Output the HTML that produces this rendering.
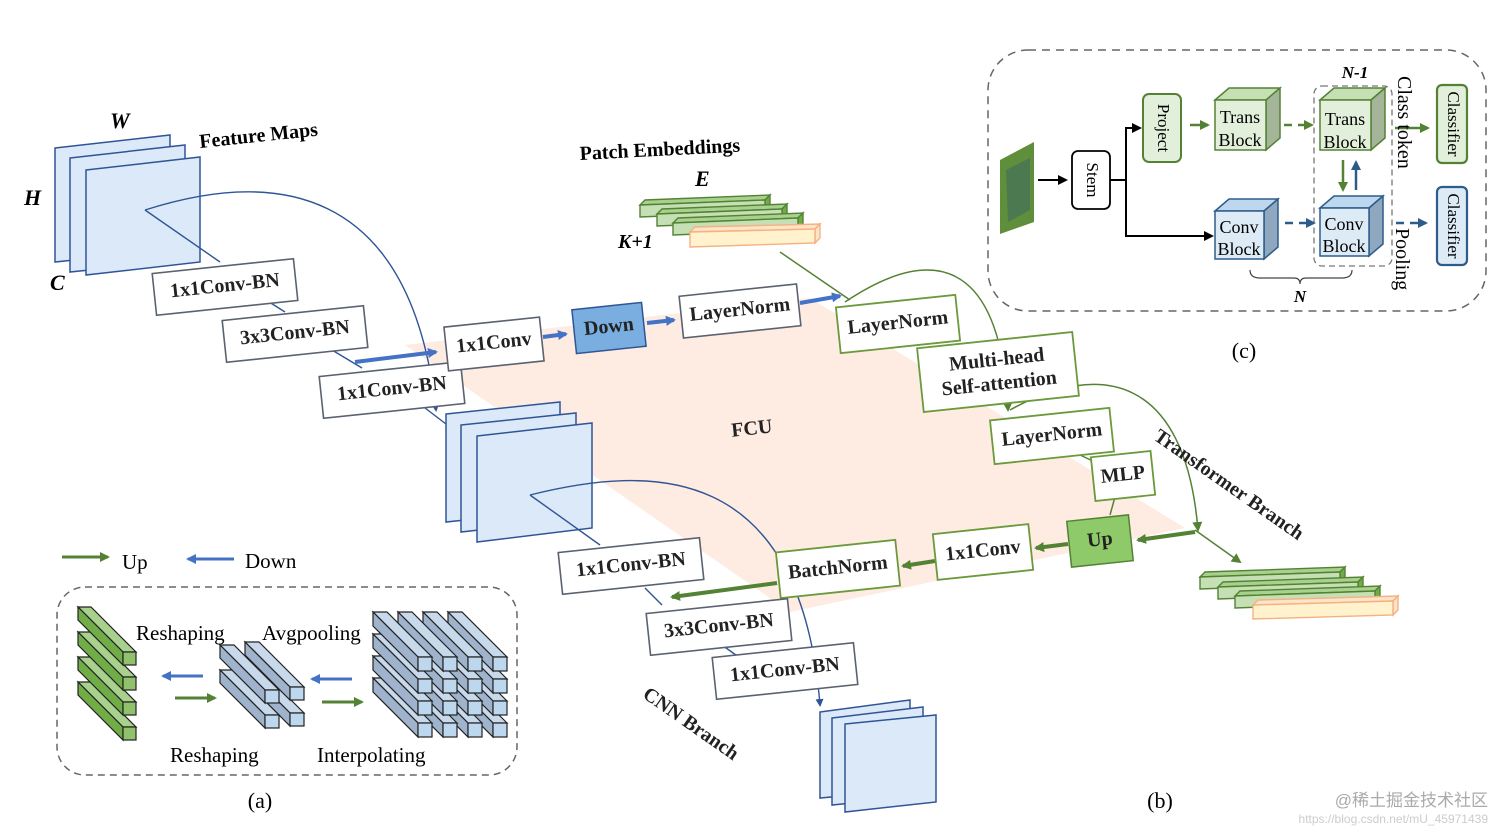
<!DOCTYPE html>
<html><head><meta charset="utf-8"><style>
html,body{margin:0;padding:0;background:#fff;}
svg{display:block;font-family:"Liberation Serif",serif;}
.b{fill:#fff;stroke:#5a6270;stroke-width:1.6}
.g{fill:#fff;stroke:#6a9a3a;stroke-width:1.8}
.t{font-size:20px;font-weight:bold;fill:#222;text-anchor:middle;dominant-baseline:middle}
.fm{fill:#dce9f8;stroke:#2f5597;stroke-width:1.5}
</style></head><body>
<svg width="1512" height="833" viewBox="0 0 1512 833" xmlns="http://www.w3.org/2000/svg">
<defs>
<marker id="ab" markerWidth="8" markerHeight="8" refX="6" refY="4" orient="auto" markerUnits="userSpaceOnUse"><path d="M0,0L8,4L0,8z" fill="#2f5597"/></marker>
<marker id="ag" markerWidth="10" markerHeight="10" refX="8" refY="5" orient="auto" markerUnits="userSpaceOnUse"><path d="M0,0L10,5L0,10z" fill="#548235"/></marker>
<marker id="ak" markerWidth="10" markerHeight="10" refX="8" refY="5" orient="auto" markerUnits="userSpaceOnUse"><path d="M0,0L10,5L0,10z" fill="#000"/></marker>
<marker id="abl" markerWidth="10" markerHeight="10" refX="8" refY="5" orient="auto" markerUnits="userSpaceOnUse"><path d="M0,0L10,5L0,10z" fill="#4472c4"/></marker>
<marker id="adb" markerWidth="10" markerHeight="10" refX="8" refY="5" orient="auto" markerUnits="userSpaceOnUse"><path d="M0,0L10,5L0,10z" fill="#2e5c8a"/></marker>
<g id="bbar"><polygon points="0,0 14,0 -31,-45 -45,-45" fill="#c9d9ec"/><polygon points="0,0 0,14 -45,-31 -45,-45" fill="#9fb4cc"/><rect width="14" height="14" fill="#bdd7ee"/></g>
<g id="sbar"><polygon points="0,0 14,0 -31,-45 -45,-45" fill="#c9d9ec"/><polygon points="0,0 0,13 -45,-32 -45,-45" fill="#9fb4cc"/><rect width="14" height="13" fill="#bdd7ee"/></g>
<g id="gbar"><polygon points="0,0 13,0 -32,-45 -45,-45" fill="#a9d18e"/><polygon points="0,0 0,13 -45,-32 -45,-45" fill="#70ad47"/><rect width="13" height="13" fill="#8fc26a"/></g>
</defs>

<!-- FCU plane -->
<polygon points="405,345 810,298 1185,528 790,612" fill="#fde4d8" opacity="0.75"/>
<text x="752" y="430" class="t" transform="rotate(-6 752 430)">FCU</text>

<!-- top-left feature maps -->
<polygon class="fm" points="55,148 170,135 170,250 55,262"/>
<polygon class="fm" points="70,158 185,145 185,260 70,272"/>
<polygon class="fm" points="86,170 200,157 200,262 86,275"/>
<text x="110" y="128" font-size="22" font-weight="bold" font-style="italic">W</text>
<text x="24" y="205" font-size="22" font-weight="bold" font-style="italic">H</text>
<text x="50" y="290" font-size="22" font-weight="bold" font-style="italic">C</text>
<text x="200" y="148" font-size="20" font-weight="bold" transform="rotate(-6 200 148)">Feature Maps</text>

<!-- middle feature maps -->
<polygon class="fm" points="446,414 560,402 560,510 446,522"/>
<polygon class="fm" points="461,425 576,413 576,519 461,532"/>
<polygon class="fm" points="477,436 592,423 592,528 477,542"/>
<!-- bottom feature maps -->
<polygon class="fm" points="820,712 910,700 910,790 820,798"/>
<polygon class="fm" points="832,718 923,707 923,796 832,805"/>
<polygon class="fm" points="845,724 936,715 936,802 845,812"/>

<!-- patch embeddings top -->
<g stroke-width="1.4">
<g stroke="#548235" fill="#a9d18e">
<polygon points="640,205 645,200 770,195 765,200"/><polygon points="765,200 770,195 770,207 765,212" fill="#70ad47"/><polygon points="640,205 765,200 765,212 640,217" fill="#c5e0b4"/>
<polygon points="657,214 662,209 787,204 782,209"/><polygon points="782,209 787,204 787,216 782,221" fill="#70ad47"/><polygon points="657,214 782,209 782,221 657,226" fill="#c5e0b4"/>
<polygon points="673,223 678,218 803,213 798,218"/><polygon points="798,218 803,213 803,225 798,230" fill="#70ad47"/><polygon points="673,223 798,218 798,230 673,235" fill="#c5e0b4"/>
</g>
<g stroke="#f4b183" fill="#fce4c8"><polygon points="690,232 695,227 820,224 815,229"/><polygon points="815,229 820,224 820,238 815,243"/><polygon points="690,232 815,229 815,243 690,247" fill="#fff2cc"/></g>
</g>
<text x="580" y="160" font-size="20" font-weight="bold" transform="rotate(-3 580 160)">Patch Embeddings</text>
<text x="695" y="186" font-size="22" font-weight="bold" font-style="italic">E</text>
<text x="618" y="248" font-size="20" font-weight="bold" font-style="italic">K+1</text>

<!-- patch embeddings bottom-right -->
<g stroke-width="1.4">
<g stroke="#548235" fill="#a9d18e">
<polygon points="1200,577 1205,572 1345,567 1340,572"/><polygon points="1340,572 1345,567 1345,579 1340,584" fill="#70ad47"/><polygon points="1200,577 1340,572 1340,584 1200,589" fill="#c5e0b4"/>
<polygon points="1218,587 1223,582 1363,577 1358,582"/><polygon points="1358,582 1363,577 1363,589 1358,594" fill="#70ad47"/><polygon points="1218,587 1358,582 1358,594 1218,599" fill="#c5e0b4"/>
<polygon points="1235,596 1240,591 1380,586 1375,591"/><polygon points="1375,591 1380,586 1380,598 1375,603" fill="#70ad47"/><polygon points="1235,596 1375,591 1375,603 1235,608" fill="#c5e0b4"/>
</g>
<g stroke="#f4b183" fill="#fce4c8"><polygon points="1253,605 1258,600 1398,596 1393,601"/><polygon points="1393,601 1398,596 1398,610 1393,615"/><polygon points="1253,605 1393,601 1393,615 1253,619" fill="#fff2cc"/></g>
</g>

<!-- connector lines -->
<g stroke="#2f5597" stroke-width="1.4" fill="none">
<line x1="145" y1="210" x2="220" y2="262"/>
<path d="M145,210 C270,170 410,180 436,410" marker-end="url(#ab)"/>
<line x1="255" y1="293" x2="285" y2="312"/>
<line x1="332" y1="350" x2="362" y2="368"/>
<line x1="425" y1="408" x2="446" y2="424"/>
<line x1="530" y1="495" x2="600" y2="545"/>
<path d="M530,495 C650,465 800,460 820,705" marker-end="url(#ab)"/>
<line x1="645" y1="588" x2="662" y2="605"/>
<line x1="722" y1="645" x2="740" y2="658"/>
</g>
<g stroke="#548235" stroke-width="1.5" fill="none">
<line x1="780" y1="252" x2="850" y2="300"/>
<path d="M845,302 C930,245 1000,255 1008,410" marker-end="url(#ag)"/>
<path d="M1010,410 C1100,360 1185,375 1198,530" marker-end="url(#ag)"/>
<line x1="1065" y1="448" x2="1095" y2="462"/>
<line x1="1195" y1="530" x2="1240" y2="562" marker-end="url(#ag)"/>
<line x1="1115" y1="497" x2="1110" y2="515"/>
</g>
<!-- thick arrows -->
<g stroke="#4472c4" stroke-width="4" fill="none">
<line x1="355" y1="362" x2="436" y2="352" marker-end="url(#abl)"/>
<line x1="543" y1="337" x2="566" y2="334" marker-end="url(#abl)"/>
<line x1="647" y1="323" x2="674" y2="320" marker-end="url(#abl)"/>
<line x1="800" y1="303" x2="840" y2="296" marker-end="url(#abl)"/>
</g>
<g stroke="#548235" stroke-width="4" fill="none">
<line x1="1195" y1="532" x2="1138" y2="540" marker-end="url(#ag)"/>
<line x1="1068" y1="544" x2="1036" y2="548" marker-end="url(#ag)"/>
<line x1="935" y1="561" x2="903" y2="566" marker-end="url(#ag)"/>
<line x1="777" y1="583" x2="672" y2="597" marker-end="url(#ag)"/>
</g>

<!-- boxes -->
<g transform="translate(225,287) rotate(-6)"><rect class="b" x="-71" y="-21" width="142" height="42"/><text class="t">1x1Conv-BN</text></g>
<g transform="translate(295,334) rotate(-6)"><rect class="b" x="-71" y="-21" width="142" height="42"/><text class="t">3x3Conv-BN</text></g>
<g transform="translate(392,390) rotate(-6)"><rect class="b" x="-71" y="-21" width="142" height="42"/><text class="t">1x1Conv-BN</text></g>
<g transform="translate(494,344) rotate(-6)"><rect class="b" x="-48" y="-22" width="96" height="44"/><text class="t">1x1Conv</text></g>
<g transform="translate(609,328) rotate(-6)"><rect x="-35" y="-22" width="70" height="44" fill="#7aaee0" stroke="#2f5597" stroke-width="1.5"/><text class="t">Down</text></g>
<g transform="translate(740,311) rotate(-6)"><rect class="b" x="-59" y="-21" width="118" height="42"/><text class="t">LayerNorm</text></g>
<g transform="translate(898,324) rotate(-6)"><rect class="g" x="-60" y="-23" width="120" height="46"/><text class="t">LayerNorm</text></g>
<g transform="translate(998,372) rotate(-6)"><rect class="g" x="-78" y="-32" width="156" height="64"/><text class="t" y="-11">Multi-head</text><text class="t" y="13">Self-attention</text></g>
<g transform="translate(1052,436) rotate(-6)"><rect class="g" x="-60" y="-22" width="120" height="44"/><text class="t">LayerNorm</text></g>
<g transform="translate(1123,476) rotate(-6)"><rect class="g" x="-30" y="-22" width="60" height="44"/><text class="t">MLP</text></g>
<g transform="translate(1100,541) rotate(-6)"><rect x="-31" y="-23" width="62" height="46" fill="#8fca6a" stroke="#548235" stroke-width="1.5"/><text class="t">Up</text></g>
<g transform="translate(983,552) rotate(-6)"><rect class="g" x="-48" y="-23" width="96" height="46"/><text class="t">1x1Conv</text></g>
<g transform="translate(838,569) rotate(-6)"><rect class="g" x="-60" y="-23" width="120" height="46"/><text class="t">BatchNorm</text></g>
<g transform="translate(631,566) rotate(-6)"><rect class="b" x="-71" y="-21" width="142" height="42"/><text class="t">1x1Conv-BN</text></g>
<g transform="translate(719,627) rotate(-6)"><rect class="b" x="-71" y="-21" width="142" height="42"/><text class="t">3x3Conv-BN</text></g>
<g transform="translate(785,671) rotate(-6)"><rect class="b" x="-71" y="-21" width="142" height="42"/><text class="t">1x1Conv-BN</text></g>

<text x="1228" y="486" class="t" font-size="21" transform="rotate(35 1228 486)">Transformer Branch</text>
<text x="690" y="725" class="t" font-size="21" transform="rotate(35 690 725)">CNN Branch</text>

<!-- legend -->
<line x1="62" y1="557" x2="108" y2="557" stroke="#548235" stroke-width="3" marker-end="url(#ag)"/>
<text x="122" y="569" font-size="21">Up</text>
<line x1="234" y1="559" x2="188" y2="559" stroke="#4472c4" stroke-width="3" marker-end="url(#abl)"/>
<text x="245" y="568" font-size="21">Down</text>

<!-- (a) box -->
<rect x="57" y="587" width="460" height="188" rx="28" fill="none" stroke="#666" stroke-width="1.5" stroke-dasharray="7,5"/>
<g stroke="#222" stroke-width="1.2">
<use href="#gbar" x="123" y="727"/><use href="#gbar" x="123" y="702"/><use href="#gbar" x="123" y="677"/><use href="#gbar" x="123" y="652"/>
<use href="#sbar" x="290" y="713"/><use href="#sbar" x="265" y="715"/><use href="#sbar" x="290" y="687"/><use href="#sbar" x="265" y="690"/>
<use href="#bbar" x="493" y="723"/><use href="#bbar" x="468" y="723"/><use href="#bbar" x="443" y="723"/><use href="#bbar" x="418" y="723"/>
<use href="#bbar" x="493" y="701"/><use href="#bbar" x="468" y="701"/><use href="#bbar" x="443" y="701"/><use href="#bbar" x="418" y="701"/>
<use href="#bbar" x="493" y="679"/><use href="#bbar" x="468" y="679"/><use href="#bbar" x="443" y="679"/><use href="#bbar" x="418" y="679"/>
<use href="#bbar" x="493" y="657"/><use href="#bbar" x="468" y="657"/><use href="#bbar" x="443" y="657"/><use href="#bbar" x="418" y="657"/>
</g>
<text x="136" y="640" font-size="21">Reshaping</text>
<text x="262" y="640" font-size="21">Avgpooling</text>
<text x="170" y="762" font-size="21">Reshaping</text>
<text x="317" y="762" font-size="21">Interpolating</text>
<line x1="203" y1="676" x2="163" y2="676" stroke="#4472c4" stroke-width="3" marker-end="url(#abl)"/>
<line x1="175" y1="698" x2="215" y2="698" stroke="#548235" stroke-width="3" marker-end="url(#ag)"/>
<line x1="352" y1="679" x2="312" y2="679" stroke="#4472c4" stroke-width="3" marker-end="url(#abl)"/>
<line x1="322" y1="702" x2="362" y2="702" stroke="#548235" stroke-width="3" marker-end="url(#ag)"/>
<text x="260" y="808" font-size="22" text-anchor="middle">(a)</text>
<text x="1160" y="808" font-size="22" text-anchor="middle">(b)</text>

<!-- (c) box -->
<rect x="988" y="50" width="498" height="261" rx="40" fill="none" stroke="#666" stroke-width="1.5" stroke-dasharray="8,6"/>
<polygon points="1000,160 1034,142 1034,222 1000,234" fill="#5f8f3a"/>
<polygon points="1006,170 1030,158 1030,210 1008,222" fill="#3f6b5f" opacity="0.6"/>
<line x1="1038" y1="180" x2="1066" y2="180" stroke="#000" stroke-width="2" marker-end="url(#ak)"/>
<rect x="1072" y="151" width="38" height="58" rx="6" fill="#fff" stroke="#000" stroke-width="1.8"/>
<text x="1091" y="180" font-size="17" text-anchor="middle" dominant-baseline="middle" transform="rotate(90 1091 180)">Stem</text>
<path d="M1110,180 H1126 V128 H1140 M1126,180 V236 H1212" fill="none" stroke="#000" stroke-width="2"/>
<line x1="1126" y1="128" x2="1140" y2="128" stroke="#000" stroke-width="2" marker-end="url(#ak)"/>
<line x1="1190" y1="236" x2="1212" y2="236" stroke="#000" stroke-width="2" marker-end="url(#ak)"/>
<rect x="1143" y="94" width="38" height="68" rx="6" fill="#e2efda" stroke="#548235" stroke-width="2"/>
<text x="1162" y="128" font-size="17" text-anchor="middle" dominant-baseline="middle" transform="rotate(90 1162 128)">Project</text>
<!-- cubes -->
<g stroke-width="1.5">
<g stroke="#548235"><polygon points="1215,100 1229,88 1280,88 1266,100" fill="#c5e0b4"/><polygon points="1266,100 1280,88 1280,138 1266,150" fill="#a5b59a"/><rect x="1215" y="100" width="51" height="50" fill="#e2efda"/></g>
<g stroke="#548235"><polygon points="1320,100 1334,88 1385,88 1371,100" fill="#c5e0b4"/><polygon points="1371,100 1385,88 1385,138 1371,150" fill="#a5b59a"/><rect x="1320" y="100" width="51" height="50" fill="#e2efda"/></g>
<g stroke="#2e5c8a"><polygon points="1215,211 1229,199 1278,199 1264,211" fill="#bdd7ee"/><polygon points="1264,211 1278,199 1278,247 1264,259" fill="#8fa7bf"/><rect x="1215" y="211" width="49" height="48" fill="#ddebf7"/></g>
<g stroke="#2e5c8a"><polygon points="1320,208 1334,196 1383,196 1369,208" fill="#bdd7ee"/><polygon points="1369,208 1383,196 1383,244 1369,256" fill="#8fa7bf"/><rect x="1320" y="208" width="49" height="48" fill="#ddebf7"/></g>
</g>
<g font-size="18" text-anchor="middle">
<text x="1240" y="123">Trans</text><text x="1240" y="146">Block</text>
<text x="1345" y="125">Trans</text><text x="1345" y="148">Block</text>
<text x="1239" y="233">Conv</text><text x="1239" y="255">Block</text>
<text x="1344" y="230">Conv</text><text x="1344" y="252">Block</text>
</g>
<rect x="1314" y="86" width="78" height="180" rx="8" fill="none" stroke="#777" stroke-width="1.3" stroke-dasharray="6,4"/>
<text x="1355" y="78" font-size="17" font-weight="bold" font-style="italic" text-anchor="middle">N-1</text>
<line x1="1190" y1="125" x2="1208" y2="125" stroke="#548235" stroke-width="2.5" marker-end="url(#ag)"/>
<line x1="1284" y1="125" x2="1312" y2="125" stroke="#548235" stroke-width="2.5" stroke-dasharray="8,6" marker-end="url(#ag)"/>
<line x1="1285" y1="223" x2="1314" y2="223" stroke="#2e5c8a" stroke-width="2.5" stroke-dasharray="8,6" marker-end="url(#adb)"/>
<line x1="1343" y1="160" x2="1343" y2="190" stroke="#548235" stroke-width="2.5" marker-end="url(#ag)"/>
<line x1="1356" y1="190" x2="1356" y2="162" stroke="#2e5c8a" stroke-width="2.5" marker-end="url(#adb)"/>
<line x1="1395" y1="128" x2="1428" y2="128" stroke="#548235" stroke-width="2.5" marker-end="url(#ag)"/>
<line x1="1396" y1="223" x2="1426" y2="223" stroke="#2e5c8a" stroke-width="2.5" stroke-dasharray="8,6" marker-end="url(#adb)"/>
<text x="1398" y="76" font-size="20" transform="rotate(90 1398 76)">Class token</text>
<text x="1396" y="228" font-size="20" transform="rotate(90 1396 228)">Pooling</text>
<rect x="1437" y="85" width="30" height="78" rx="5" fill="#e2efda" stroke="#548235" stroke-width="2.2"/>
<text x="1452" y="124" font-size="17" text-anchor="middle" dominant-baseline="middle" transform="rotate(90 1452 124)">Classifier</text>
<rect x="1437" y="187" width="30" height="78" rx="5" fill="#ddebf7" stroke="#2e5c8a" stroke-width="2.2"/>
<text x="1452" y="226" font-size="17" text-anchor="middle" dominant-baseline="middle" transform="rotate(90 1452 226)">Classifier</text>
<path d="M1250,270 q0,8 10,8 h34 q6,0 6,6 q0,-6 6,-6 h36 q10,0 10,-8" fill="none" stroke="#444" stroke-width="1.2"/>
<text x="1300" y="302" font-size="17" font-weight="bold" font-style="italic" text-anchor="middle">N</text>
<text x="1244" y="358" font-size="22" text-anchor="middle">(c)</text>

<text x="1488" y="806" font-size="17" text-anchor="end" fill="#aaa" font-family="Liberation Sans, Noto Sans CJK SC, sans-serif">@稀土掘金技术社区</text>
<text x="1488" y="823" font-size="12" text-anchor="end" fill="#ccc" font-family="Liberation Sans, sans-serif">https://blog.csdn.net/mU_45971439</text>
</svg>
</body></html>
